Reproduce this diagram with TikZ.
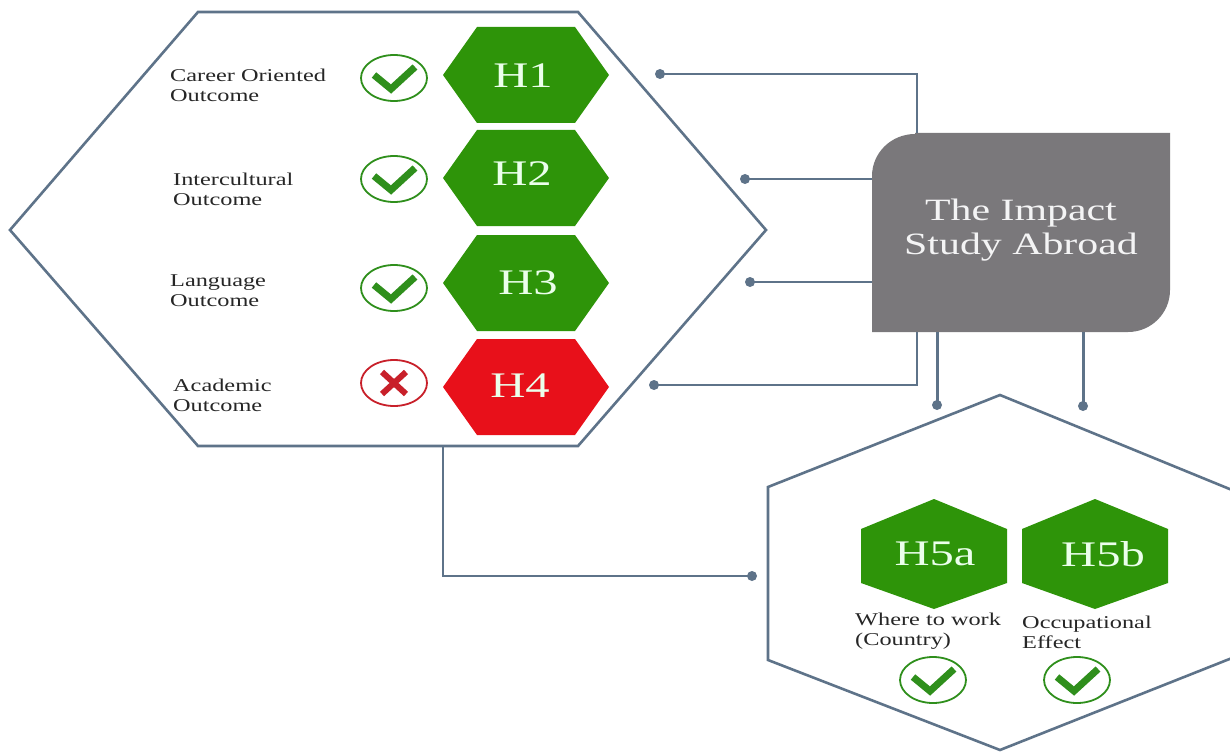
\documentclass[tikz,border=0pt]{standalone}
\usepackage{fontspec}
\setmainfont[FakeStretch=1.35]{Liberation Serif}
\definecolor{linec}{HTML}{5E7389}
\definecolor{hgreen}{HTML}{2E9409}
\definecolor{hred}{HTML}{E8101A}
\definecolor{boxg}{HTML}{7A787B}
\definecolor{chk}{HTML}{2F8F1C}
\definecolor{crs}{HTML}{C8202A}
\tikzset{
 x=1pt,y=-1pt,
 outline/.style={draw=linec,line width=2.6pt,line join=miter,fill=white},
 conn/.style={draw=linec,line width=2.2pt},
 dotn/.style={circle,fill=linec,inner sep=0pt,minimum size=10pt},
 hlabel/.style={text=white!92!green,font=\fontsize{36}{40}\selectfont,inner sep=0pt},
 olabel/.style={text=black!85,font=\fontsize{18}{20}\selectfont,inner sep=0pt,align=left,anchor=west},
 ring/.style={ellipse,draw=#1,line width=1.8pt,inner sep=0pt,minimum width=66pt,minimum height=46pt,fill=white},
 tick/.style={draw=chk,line width=7pt,line join=miter},
}
\usetikzlibrary{shapes.geometric}
\newcommand{\bighex}[3]{% centre x, centre y, fill
  \fill[#3] (#1-83,#2) -- (#1-49,#2-48) -- (#1+49,#2-48) -- (#1+83,#2) -- (#1+49,#2+48) -- (#1-49,#2+48) -- cycle;}
\newcommand{\smallhex}[2]{%
  \fill[hgreen] (#1,#2-55) -- (#1+73,#2-25) -- (#1+73,#2+29) -- (#1,#2+55) -- (#1-73,#2+29) -- (#1-73,#2-25) -- cycle;}
\begin{document}
\begin{tikzpicture}
\useasboundingbox (0,0) rectangle (1230,754);
\fill[white] (0,0) rectangle (1230,754);
% outer hexagons
\draw[outline] (10,230) -- (198,12) -- (578,12) -- (766,230) -- (578,446) -- (198,446) -- cycle;
\begin{scope}
\clip (0,0) rectangle (1230,754);
\draw[outline] (1000,395) -- (1232,490) -- (1232,658) -- (1000,750) -- (768,660) -- (768,487) -- cycle;
\end{scope}
% box
\fill[boxg] (915,133) -- (1170,133) -- (1170,290) arc[start angle=0,end angle=90,radius=42] -- (872,332) -- (872,176) arc[start angle=180,end angle=270,radius=42,x radius=43] -- cycle;
\node[minimum width=298pt,minimum height=199pt,inner sep=0pt,text=white!92!boxg,font=\fontsize{31}{34}\selectfont,align=center] (box) at (1021,230) {The Impact\\Study Abroad};
% named connector points
\coordinate (b1) at (917,133);
\coordinate (b4) at (917,332);
\coordinate (b5) at (937,332);
\coordinate (b6) at (1083,332);
\coordinate (hexbot) at (443,446);
% dots
\node[dotn] (d1) at (660,74) {};
\node[dotn] (d2) at (745,179) {};
\node[dotn] (d3) at (750,282) {};
\node[dotn] (d4) at (654,385) {};
\node[dotn] (d5) at (937,405) {};
\node[dotn] (d6) at (1083,406) {};
\node[dotn] (d7) at (752,576) {};
% connectors
\draw[conn] (d1.center) -| (b1);
\draw[conn] (d2.center) -- (872,179);
\draw[conn] (d3.center) -- (872,282);
\draw[conn] (d4.center) -| (b4);
\draw[conn,line width=3pt] (b5) -- (d5.center);
\draw[conn,line width=3pt] (b6) -- (d6.center);
\draw[conn] (hexbot) |- (d7.center);
% hexagons
\bighex{526}{75}{hgreen}
\bighex{526}{178}{hgreen}
\bighex{526}{283}{hgreen}
\bighex{526}{387}{hred}
\node[hlabel] (h1) at (523,76) {H1};
\node[hlabel] (h2) at (522,174) {H2};
\node[hlabel] (h3) at (528,283) {H3};
\node[hlabel] (h4) at (520,386) {H4};
\smallhex{934}{554}
\smallhex{1095}{554}
\node[hlabel] (h5a) at (935,554) {H5a};
\node[hlabel] (h5b) at (1103,554) {H5b};
% labels
\node[olabel] (l1) at (170,85) {Career Oriented\\Outcome};
\node[olabel] (l2) at (173,189) {Intercultural\\Outcome};
\node[olabel] (l3) at (170,291) {Language\\Outcome};
\node[olabel] (l4) at (173,395) {Academic\\Outcome};
\node[olabel] (l5) at (855,631) {Where to work\\(Country)};
\node[olabel] (l6) at (1022,632) {Occupational\\Effect};
% rings and marks
\foreach \n/\cx/\cy in {c1/394/78,c2/394/179,c3/394/288,c5/933/680,c6/1077/680}{
  \node[ring=chk] (\n) at (\cx,\cy) {};
  \draw[tick] (\cx-20,\cy-3) -- (\cx-3,\cy+11) -- (\cx+21,\cy-11);
}
\node[ring=crs] (c4) at (394,383) {};
\draw[draw=crs,line width=6pt] (382,372) -- (406,394) (406,372) -- (382,394);
\end{tikzpicture}
\end{document}
